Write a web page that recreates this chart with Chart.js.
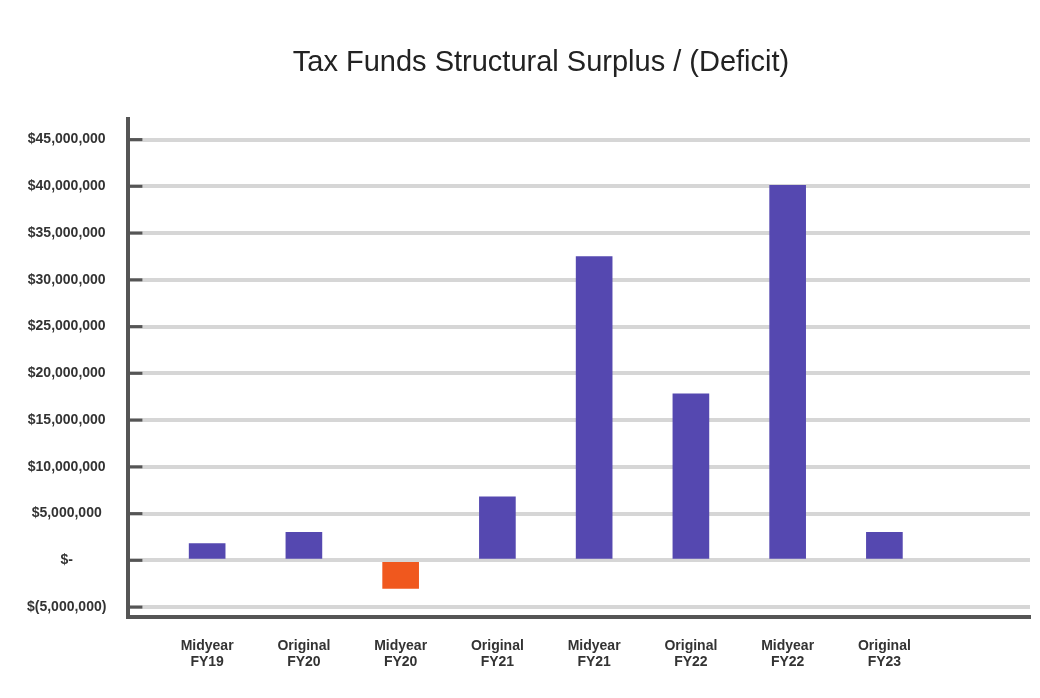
<!DOCTYPE html>
<html>
<head>
<meta charset="utf-8">
<script src="https://cdn.jsdelivr.net/npm/chart.js@4"></script>
<style>
  body { margin: 0; background: #fff; }
</style>
</head>
<body>
<canvas id="chart" width="1040" height="698"></canvas>
<script>
// data
const chartTitle = "Tax Funds Structural Surplus / (Deficit)";
const periods = ["Midyear", "Original", "Midyear", "Original", "Midyear", "Original", "Midyear", "Original"];
const years = ["FY19", "FY20", "FY20", "FY21", "FY21", "FY22", "FY22", "FY23"];
const surplus = [1800000, 3000000, -3000000, 6800000, 32500000, 17800000, 40100000, 3000000];
const yTicks = [-5000000, 0, 5000000, 10000000, 15000000, 20000000, 25000000, 30000000, 35000000, 40000000, 45000000];

const PURPLE = "#5548b0";
const ORANGE = "#f0581e";
const FONT = "Liberation Sans, Arial, sans-serif";

// $45,000,000 / $- / $(5,000,000)
function money(v) {
    if (v === 0) return "$-";
    const s = Math.abs(v).toLocaleString("en-US");
    return v < 0 ? `$(${s})` : `$${s}`;
}

// title sits a bit right of the canvas centre in the original, so draw it here
const titleText = {
    id: "titleText",
    afterDraw(chart) {
        const { ctx } = chart;
        ctx.save();
        ctx.fillStyle = "#222";
        ctx.font = `29px ${FONT}`;
        ctx.textAlign = "center";
        ctx.textBaseline = "alphabetic";
        ctx.fillText(chartTitle, 541, 71);
        ctx.restore();
    }
};

// short dark tick marks drawn just inside the y axis
const innerTicks = {
    id: "innerTicks",
    afterDatasetsDraw(chart) {
        const { ctx, chartArea, scales } = chart;
        ctx.save();
        ctx.strokeStyle = "#555";
        ctx.lineWidth = 3;
        yTicks.forEach(v => {
            const y = scales.y.getPixelForValue(v);
            ctx.beginPath();
            ctx.moveTo(chartArea.left, y);
            ctx.lineTo(chartArea.left + 14, y);
            ctx.stroke();
        });
        ctx.restore();
    }
};

new Chart(document.getElementById("chart"), {
    type: "bar",
    data: {
        datasets: [{
            data: surplus.map((v, i) => ({ x: i, y: v })),
            backgroundColor: surplus.map(v => v < 0 ? ORANGE : PURPLE),
            barThickness: 36
        }]
    },
    plugins: [innerTicks, titleText],
    options: {
        responsive: false,
        animation: false,
        layout: { padding: { left: 5, right: 10, top: 119, bottom: 15 } },
        plugins: {
            legend: { display: false },
            tooltip: { enabled: false },
            title: { display: false }
        },
        scales: {
            x: {
                type: "linear",
                min: -0.814,
                max: 8.505,
                offset: false,
                grid: { display: false },
                border: { display: true, color: "#555", width: 4 },
                afterBuildTicks: scale => {
                    scale.ticks = years.map((y, i) => ({ value: i }));
                },
                ticks: {
                    padding: 12,
                    color: "#333",
                    font: { family: FONT, size: 14, weight: "bold" },
                    callback: v => [periods[v], years[v]]
                }
            },
            y: {
                min: -6100000,
                max: 47200000,
                afterBuildTicks: scale => {
                    scale.ticks = yTicks.map(v => ({ value: v }));
                },
                grid: { color: "#d6d6d6", lineWidth: 4, drawTicks: false },
                border: { display: true, color: "#555", width: 4 },
                ticks: {
                    padding: 22,
                    crossAlign: "center",
                    color: "#333",
                    font: { family: FONT, size: 14, weight: "bold" },
                    callback: v => money(v)
                }
            }
        }
    }
});
</script>
</body>
</html>
